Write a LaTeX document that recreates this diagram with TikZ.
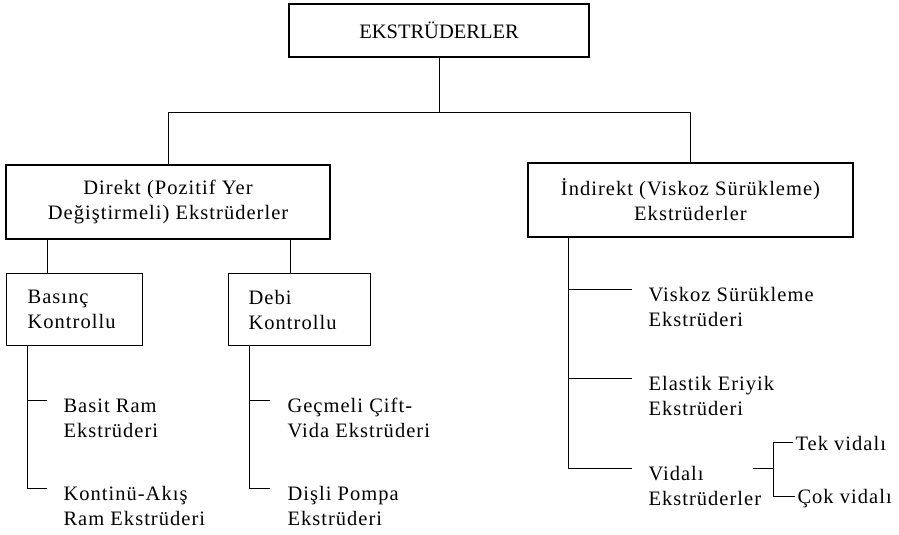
\documentclass[tikz,border=0pt]{standalone}
\usepackage{fontspec}
\setmainfont{Liberation Serif}[LetterSpace=5]
\newfontfamily\titlefont{Liberation Serif}
\usetikzlibrary{positioning}
\usetikzlibrary{calc}

\begin{document}
\begin{tikzpicture}[x=1pt,y=-1pt,
% Box style
    box/.style={rectangle,draw,line width=1.2pt,align=center,inner sep=0pt},
    box2/.style={rectangle,draw,line width=1.2pt,align=left,anchor=north west,
		inner ysep=0pt,minimum height=72pt},
% Leaf style (base = last line)
    leaf/.style={align=left,inner sep=0pt,anchor=base west},
    font={\fontsize{20.5}{25}\selectfont},
    line width=1pt
    ]
  \useasboundingbox (0,0) rectangle (899,535);

  \node (e0) [box,minimum width=300pt,minimum height=53pt] at (439,30.5) {\titlefont EKSTRÜDERLER};

  \node (d1) [box,minimum width=324pt,minimum height=74pt] at (168,202) {Direkt (Pozitif Yer\\Değiştirmeli) Ekstrüderler};
  \node (i1) [box,minimum width=325pt,minimum height=74pt] at (690.5,200) {İndirekt (Viskoz Sürükleme)\\Ekstrüderler};

  \node (b1) [box2,inner xsep=21pt,text width=94pt] at (6,273) {Basınç\\Kontrollu};
  \node (d2) [box2,inner xsep=20pt,text width=102pt] at (228,273) {Debi\\Kontrollu};

  % leaves
  \node (b21) [leaf] at (63,437) {Basit Ram\\Ekstrüderi};
  \node (b22) [leaf] at (63,525) {Kontinü-Akış\\Ram Ekstrüderi};
  \node (d21) [leaf] at (287,437) {Geçmeli Çift-\\Vida Ekstrüderi};
  \node (d22) [leaf] at (287,525) {Dişli Pompa\\Ekstrüderi};
  \node (i21) [leaf] at (648,326) {Viskoz Sürükleme\\Ekstrüderi};
  \node (i22) [leaf] at (648,415) {Elastik Eriyik\\Ekstrüderi};
  \node (i23) [leaf] at (648,505) {Vidalı\\Ekstrüderler};
  \node (tek) [leaf] at (795,450) {Tek vidalı};
  \node (cok) [leaf] at (797,503) {Çok vidalı};

  % tree edges
  \draw (e0.south) -- ++(0,55) coordinate (j0) -| (d1.north);
  \draw (j0) -| (i1.north);
  \draw ([xshift=41pt]b1.north west) -- ([xshift=41pt]b1.north west |- d1.south);
  \draw ([xshift=62pt]d2.north west) -- ([xshift=62pt]d2.north west |- d1.south);

  \draw ([xshift=21pt]b1.south west) |- ([xshift=-16pt,yshift=37pt]b22.base west);
  \draw ([xshift=-16pt,yshift=37pt]b21.base west) -- +(-20,0);
  \draw ([xshift=21pt]d2.south west) |- ([xshift=-17pt,yshift=37pt]d22.base west);
  \draw ([xshift=-17pt,yshift=37pt]d21.base west) -- +(-21,0);

  \draw ([xshift=41pt]i1.south west) |- ([xshift=-16pt,yshift=37pt]i23.base west);
  \draw ([xshift=-16pt,yshift=37pt]i21.base west) -- +(-63,0);
  \draw ([xshift=-16pt,yshift=37pt]i22.base west) -- +(-63,0);

  \coordinate (f0) at (773,468);
  \draw (f0) -- ++(-20,0);
  \draw ([xshift=-2pt,yshift=8pt]tek.base west) -| (f0) |- ([xshift=-2pt,yshift=7pt]cok.base west);

\end{tikzpicture}
\end{document}
